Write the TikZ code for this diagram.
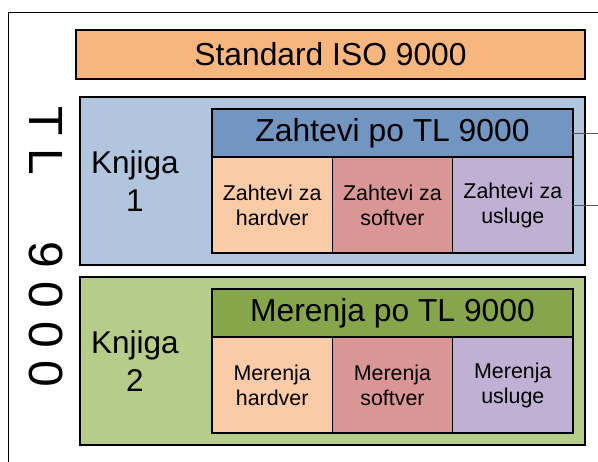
\documentclass[tikz,border=0pt]{standalone}
\usepackage{fontspec}
\setmainfont{Liberation Sans}
\usepackage{xcolor}
\usetikzlibrary{positioning}

\definecolor{isoorange}{HTML}{F8B67F}
\definecolor{bookblue}{HTML}{B2C5DE}
\definecolor{headblue}{HTML}{7295C1}
\definecolor{bookgreen}{HTML}{B6CC89}
\definecolor{headgreen}{HTML}{87A54B}
\definecolor{hwpeach}{HTML}{FACBA7}
\definecolor{swrose}{HTML}{D99694}
\definecolor{svlav}{HTML}{C0B1D4}

\begin{document}
\begin{tikzpicture}[x=1pt, y=-1pt,
  box/.style = {draw, line width=1.2pt, inner sep=0pt, outer sep=0pt},
  book/.style = {box, minimum width=505pt, minimum height=168pt},
  head/.style = {box, minimum width=361pt, minimum height=48pt, font=\fontsize{31.8}{36}\selectfont},
  cell/.style = {box, anchor=north west, minimum width=120.33pt, minimum height=96pt, align=center, font=\fontsize{21.4}{25}\selectfont},
  booklabel/.style = {align=center, font=\fontsize{31.5}{38}\selectfont},
  vert/.style = {rotate=-90, anchor=base, inner sep=0pt, font=\fontsize{48}{48}\selectfont},
  link/.style = {draw=black!65, line width=0.9pt}]
\useasboundingbox (0,0) rectangle (598,462);

% frame
\draw[line width=1pt] (598,13) -- (8,13) -- (8,462);

% standard
\node[box, fill=isoorange, minimum width=509pt, minimum height=49pt, font=\fontsize{31.8}{36}\selectfont] (iso) at (330.5,54.5) {Standard ISO 9000};

% vertical title
\foreach \ch/\yy/\nm in {T/121/t, L/162/l, 9/255/a, 0/295/b, 0/335/c, 0/374/d}
  \node[vert] (tl\nm) at (29,\yy) {\ch};

% book 1
\node[book, fill=bookblue] (k1) at (332.5,181) {};
\node[booklabel] (k1txt) at (135,181) {Knjiga\\1};
\node[head, fill=headblue] (zh) at (392.5,133) {Zahtevi po TL 9000};
\node[cell, fill=hwpeach] (zhw) at (zh.south west) {Zahtevi za\\hardver};
\node[cell, fill=swrose] (zsw) at (zhw.north east) {Zahtevi za\\softver};
\node[cell, fill=svlav] (zus) at (zsw.north east) {Zahtevi za\\usluge};

% book 2
\node[book, fill=bookgreen] (k2) at (332.5,361) {};
\node[booklabel] (k2txt) at (135,361) {Knjiga\\2};
\node[head, fill=headgreen] (mh) at (392.5,313) {Merenja po TL 9000};
\node[cell, fill=hwpeach] (mhw) at (mh.south west) {Merenja\\hardver};
\node[cell, fill=swrose] (msw) at (mhw.north east) {Merenja\\softver};
\node[cell, fill=svlav] (mus) at (msw.north east) {Merenja\\usluge};

% lines leaving to the right
\coordinate (outa) at (598,133);
\coordinate (outb) at (598,205);
\draw[link] (zh.east) -- (outa);
\draw[link] (zus.east) -- (outb);
\end{tikzpicture}
\end{document}
